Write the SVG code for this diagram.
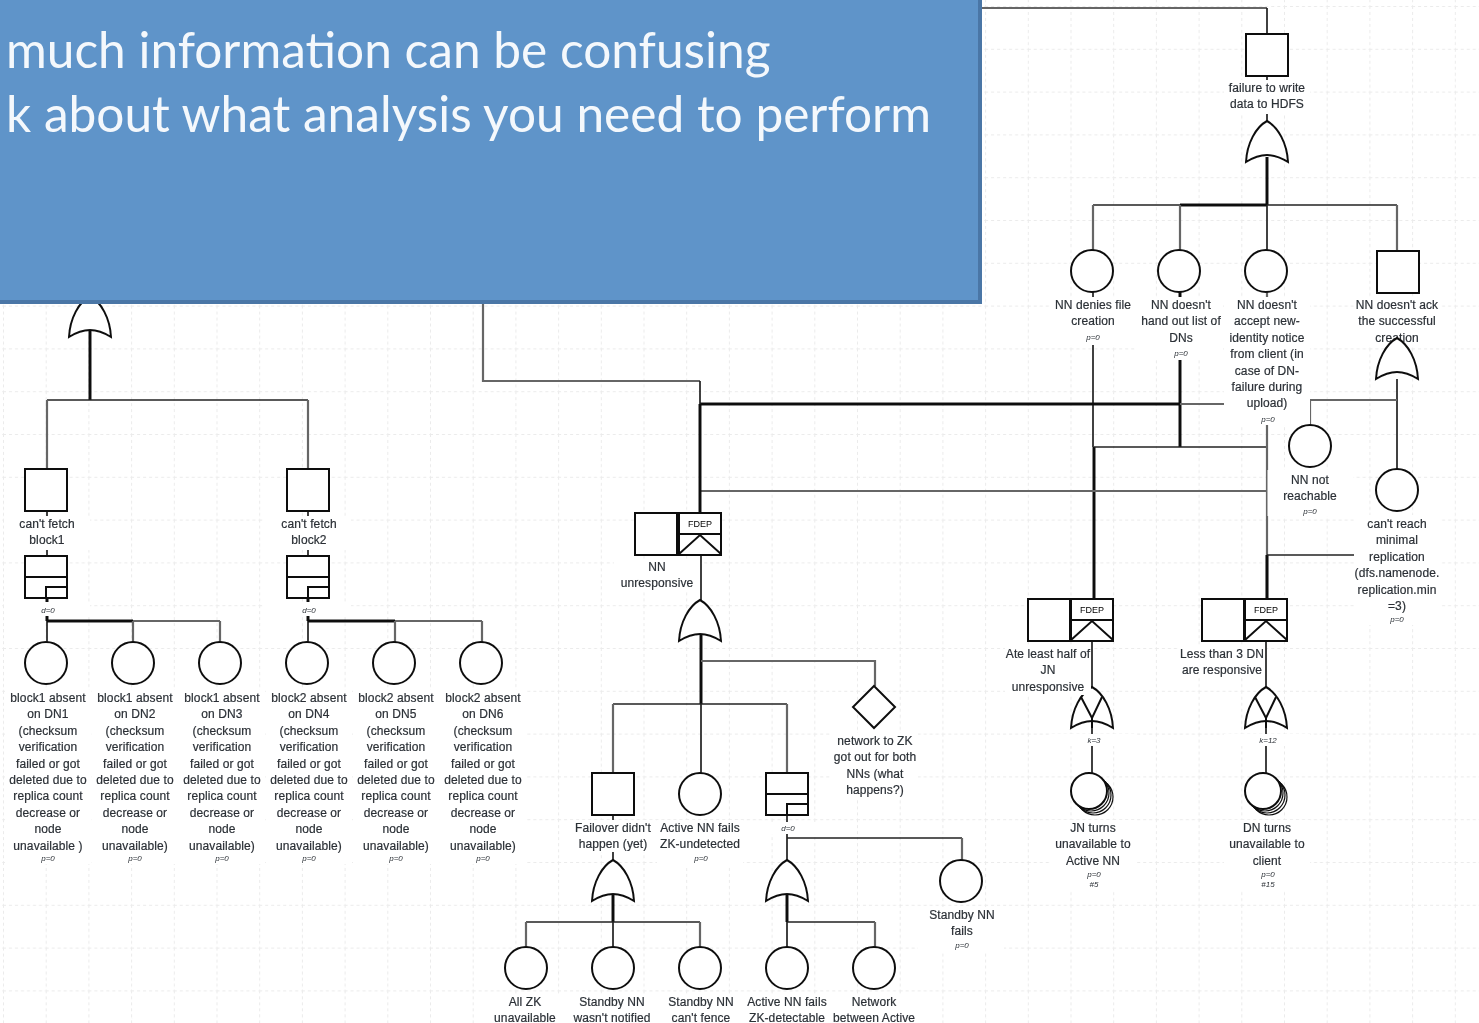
<svg xmlns="http://www.w3.org/2000/svg" xmlns:xlink="http://www.w3.org/1999/xlink" width="1479" height="1023" viewBox="0 0 1479 1023">
<style>
text{font-family:"Liberation Sans",Arial,sans-serif;fill:#2b3036;text-anchor:middle}
.l{font-size:12px;letter-spacing:.1px;stroke:#2b3036;stroke-width:.2px}
.p{font-size:8px;font-style:italic}
.f{font-size:9px;fill:#000}
.m{fill:#fff}
.s{fill:#fff;stroke:#111;stroke-width:2}
.r{fill:#fff;stroke:#111;stroke-width:1.2}
.n{fill:none;stroke:#111;stroke-width:2}
.c{fill:none;stroke:#222;stroke-width:1.7}
.t{fill:none;stroke:#111;stroke-width:3}
.g{fill:none;stroke:#666;stroke-width:2.2}
.title{font-family:Lato,"Open Sans",sans-serif;font-size:49.6px;fill:#f4f8fc;text-anchor:start}
</style>
<defs>
<filter id="soft" x="0" y="0" width="100%" height="100%"><feGaussianBlur stdDeviation="0.45"/></filter>
<pattern id="grid" width="42.7" height="42.8" patternUnits="userSpaceOnUse" patternTransform="translate(3 6)">
<path d="M.5 0V42.8M0 .5H42.7" fill="none" stroke="#ebebeb" stroke-width="1" stroke-dasharray="3 3"/>
</pattern>
<path id="or" class="s" d="M21 0C32 6 41 22 42 41C34 36 27 34 21 34C15 34 8 36 0 41C1 22 10 6 21 0Z"/>
<g id="xor"><use xlink:href="#or"/><path class="n" d="M10 10L21 31L31 10"/><path class="n" d="M21 31V41"/></g>
<g id="xfer"><rect class="s" width="42" height="42"/><path class="s" d="M0 21H42M21 42V31H42" style="fill:none"/></g>
<g id="fdep"><rect class="s" width="42" height="42"/><path class="s" d="M0 21H42" style="fill:none"/><path class="s" d="M0 41L21 22L42 41" style="fill:none"/><text class="f" x="21" y="13.5">FDEP</text></g>
</defs>
<rect width="1479" height="1023" fill="#fff"/>
<g filter="url(#soft)">
<rect width="1479" height="1023" fill="url(#grid)"/>
<g id="connectors">
<path class="g" d="M982 8H1267"/>
<path class="c" d="M1267 8V34M1267 75V122"/>
<path class="t" d="M1267 157V205"/>
<path class="c" d="M1093 205H1397"/>
<path class="t" d="M1180 205H1267"/>
<path class="g" d="M1093 205V251M1180 205V251M1397 205V251"/>
<path class="c" d="M1267 205V251"/>
<path class="c" d="M1093 292V447"/>
<path class="t" d="M1180 292V447M1094 447V600"/>
<path class="c" d="M1094 447H1267"/>
<path class="g" d="M1267 292V600"/>
<path class="t" d="M1267 555V600"/>
<path class="t" d="M700 404H1180"/>
<path class="g" d="M1180 404H1267"/>
<path class="g" d="M700 491H1267"/>
<path class="c" d="M1267 555H1360"/>
<path class="g" d="M483 303V381H700"/>
<path class="t" d="M700 404V513"/>
<path class="c" d="M700 381V404M701 554V600"/>
<path class="t" d="M701 635V704"/>
<path class="g" d="M701 661H875V686"/>
<path class="c" d="M613 704H787"/>
<path class="g" d="M613 704V773M787 704V773"/>
<path class="c" d="M701 704V773"/>
<path class="c" d="M613 815V860M787 815V860M787 838H962"/>
<path class="g" d="M962 838V860"/>
<path class="t" d="M613 895V922"/>
<path class="c" d="M613 922V947"/>
<path class="c" d="M526 922H700"/>
<path class="g" d="M526 922V947M700 922V947"/>
<path class="t" d="M787 895V922"/>
<path class="c" d="M787 922V947M787 922H875"/>
<path class="g" d="M875 922V947"/>
<path class="t" d="M90 331V400"/>
<path class="c" d="M47 400H308"/>
<path class="g" d="M47 400V469M308 400V469"/>
<path class="c" d="M47 511V556M308 511V556"/>
<path class="t" d="M47 598V621M308 598V621"/>
<path class="c" d="M47 621V642M308 621V642"/>
<path class="t" d="M47 621H133M308 621H395"/>
<path class="g" d="M133 621H220M133 621V642M220 621V642M395 621H482M395 621V642M482 621V642"/>
<path class="c" d="M1397 379V470"/>
<path class="g" d="M1310 400H1397M1310 400V425"/>
<path class="c" d="M1092 641V688M1092 728V773M1266 641V688M1266 728V773"/>
</g>

<g id="top-event"><rect class="m" x="1224" y="80" width="86" height="34"/><rect class="s" x="1246" y="34" width="42" height="42"/>
<text class="l" y="92"><tspan x="1267">failure to write</tspan><tspan x="1267" dy="16.4">data to HDFS</tspan></text></g>
<g id="top-gate"><use xlink:href="#or" x="1246" y="121"/></g>

<g id="nn-denies"><rect class="m" x="1050" y="297" width="86" height="48"/><circle class="s" cx="1092" cy="271" r="21"/>
<text class="l" y="309"><tspan x="1093">NN denies file</tspan><tspan x="1093" dy="16.4">creation</tspan></text><text class="p" x="1093" y="340">p=0</text></g>
<g id="nn-list"><rect class="m" x="1137" y="297" width="86" height="63"/><circle class="s" cx="1179" cy="271" r="21"/>
<text class="l" y="309"><tspan x="1181">NN doesn't</tspan><tspan x="1181" dy="16.4">hand out list of</tspan><tspan x="1181" dy="16.4">DNs</tspan></text><text class="p" x="1181" y="356">p=0</text></g>
<g id="nn-identity"><rect class="m" x="1224" y="297" width="86" height="128"/><circle class="s" cx="1266" cy="271" r="21"/>
<text class="l" y="309"><tspan x="1267">NN doesn't</tspan><tspan x="1267" dy="16.4">accept new-</tspan><tspan x="1267" dy="16.4">identity notice</tspan><tspan x="1267" dy="16.4">from client (in</tspan><tspan x="1267" dy="16.4">case of DN-</tspan><tspan x="1267" dy="16.4">failure during</tspan><tspan x="1267" dy="16.4">upload)</tspan></text><text class="p" x="1268" y="422">p=0</text></g>
<g id="nn-ack"><rect class="m" x="1354" y="297" width="86" height="48"/><rect class="s" x="1377" y="251" width="42" height="42"/>
<text class="l" y="309"><tspan x="1397">NN doesn't ack</tspan><tspan x="1397" dy="16.4">the successful</tspan><tspan x="1397" dy="16.4">creation</tspan></text></g>
<g id="ack-gate"><use xlink:href="#or" x="1376" y="338"/></g>
<g id="nn-not-reachable"><rect class="m" x="1267.5" y="470" width="86" height="46"/><circle class="s" cx="1310" cy="446" r="21"/>
<text class="l" y="484"><tspan x="1310">NN not</tspan><tspan x="1310" dy="16.4">reachable</tspan></text><text class="p" x="1310" y="514">p=0</text></g>
<g id="min-replication"><rect class="m" x="1354" y="515" width="86" height="110"/><circle class="s" cx="1397" cy="490" r="21"/>
<text class="l" y="528"><tspan x="1397">can't reach</tspan><tspan x="1397" dy="16.4">minimal</tspan><tspan x="1397" dy="16.4">replication</tspan><tspan x="1397" dy="16.4">(dfs.namenode.</tspan><tspan x="1397" dy="16.4">replication.min</tspan><tspan x="1397" dy="16.4">=3)</tspan></text><text class="p" x="1397" y="622">p=0</text></g>

<g id="fetch-gate"><use xlink:href="#or" x="69" y="296"/></g>
<g id="fetch1"><rect class="m" x="4" y="516" width="86" height="34"/><rect class="s" x="25" y="469" width="42" height="42"/>
<text class="l" y="528"><tspan x="47">can't fetch</tspan><tspan x="47" dy="16.4">block1</tspan></text></g>
<g id="fetch2"><rect class="m" x="265" y="516" width="86" height="34"/><rect class="s" x="287" y="469" width="42" height="42"/>
<text class="l" y="528"><tspan x="309">can't fetch</tspan><tspan x="309" dy="16.4">block2</tspan></text></g>
<g id="vote1"><rect class="m" x="4" y="602" width="86" height="14"/><use xlink:href="#xfer" x="25" y="556"/><text class="p" x="48" y="613">d=0</text></g>
<g id="vote2"><rect class="m" x="265" y="602" width="86" height="14"/><use xlink:href="#xfer" x="287" y="556"/><text class="p" x="309" y="613">d=0</text></g>

<g id="dn1"><rect class="m" x="5" y="690" width="86" height="174"/><circle class="s" cx="46" cy="663" r="21"/>
<text class="l" y="702"><tspan x="48">block1 absent</tspan><tspan x="48" dy="16.4">on DN1</tspan><tspan x="48" dy="16.4">(checksum</tspan><tspan x="48" dy="16.4">verification</tspan><tspan x="48" dy="16.4">failed or got</tspan><tspan x="48" dy="16.4">deleted due to</tspan><tspan x="48" dy="16.4">replica count</tspan><tspan x="48" dy="16.4">decrease or</tspan><tspan x="48" dy="16.4">node</tspan><tspan x="48" dy="16.4">unavailable )</tspan></text><text class="p" x="48" y="861">p=0</text></g>
<g id="dn2"><rect class="m" x="92" y="690" width="86" height="174"/><circle class="s" cx="133" cy="663" r="21"/>
<text class="l" y="702"><tspan x="135">block1 absent</tspan><tspan x="135" dy="16.4">on DN2</tspan><tspan x="135" dy="16.4">(checksum</tspan><tspan x="135" dy="16.4">verification</tspan><tspan x="135" dy="16.4">failed or got</tspan><tspan x="135" dy="16.4">deleted due to</tspan><tspan x="135" dy="16.4">replica count</tspan><tspan x="135" dy="16.4">decrease or</tspan><tspan x="135" dy="16.4">node</tspan><tspan x="135" dy="16.4">unavailable)</tspan></text><text class="p" x="135" y="861">p=0</text></g>
<g id="dn3"><rect class="m" x="179" y="690" width="86" height="174"/><circle class="s" cx="220" cy="663" r="21"/>
<text class="l" y="702"><tspan x="222">block1 absent</tspan><tspan x="222" dy="16.4">on DN3</tspan><tspan x="222" dy="16.4">(checksum</tspan><tspan x="222" dy="16.4">verification</tspan><tspan x="222" dy="16.4">failed or got</tspan><tspan x="222" dy="16.4">deleted due to</tspan><tspan x="222" dy="16.4">replica count</tspan><tspan x="222" dy="16.4">decrease or</tspan><tspan x="222" dy="16.4">node</tspan><tspan x="222" dy="16.4">unavailable)</tspan></text><text class="p" x="222" y="861">p=0</text></g>
<g id="dn4"><rect class="m" x="266" y="690" width="86" height="174"/><circle class="s" cx="307" cy="663" r="21"/>
<text class="l" y="702"><tspan x="309">block2 absent</tspan><tspan x="309" dy="16.4">on DN4</tspan><tspan x="309" dy="16.4">(checksum</tspan><tspan x="309" dy="16.4">verification</tspan><tspan x="309" dy="16.4">failed or got</tspan><tspan x="309" dy="16.4">deleted due to</tspan><tspan x="309" dy="16.4">replica count</tspan><tspan x="309" dy="16.4">decrease or</tspan><tspan x="309" dy="16.4">node</tspan><tspan x="309" dy="16.4">unavailable)</tspan></text><text class="p" x="309" y="861">p=0</text></g>
<g id="dn5"><rect class="m" x="353" y="690" width="86" height="174"/><circle class="s" cx="394" cy="663" r="21"/>
<text class="l" y="702"><tspan x="396">block2 absent</tspan><tspan x="396" dy="16.4">on DN5</tspan><tspan x="396" dy="16.4">(checksum</tspan><tspan x="396" dy="16.4">verification</tspan><tspan x="396" dy="16.4">failed or got</tspan><tspan x="396" dy="16.4">deleted due to</tspan><tspan x="396" dy="16.4">replica count</tspan><tspan x="396" dy="16.4">decrease or</tspan><tspan x="396" dy="16.4">node</tspan><tspan x="396" dy="16.4">unavailable)</tspan></text><text class="p" x="396" y="861">p=0</text></g>
<g id="dn6"><rect class="m" x="440" y="690" width="86" height="174"/><circle class="s" cx="481" cy="663" r="21"/>
<text class="l" y="702"><tspan x="483">block2 absent</tspan><tspan x="483" dy="16.4">on DN6</tspan><tspan x="483" dy="16.4">(checksum</tspan><tspan x="483" dy="16.4">verification</tspan><tspan x="483" dy="16.4">failed or got</tspan><tspan x="483" dy="16.4">deleted due to</tspan><tspan x="483" dy="16.4">replica count</tspan><tspan x="483" dy="16.4">decrease or</tspan><tspan x="483" dy="16.4">node</tspan><tspan x="483" dy="16.4">unavailable)</tspan></text><text class="p" x="483" y="861">p=0</text></g>

<g id="nn-unresponsive"><rect class="m" x="614" y="559" width="86" height="32"/><rect class="s" x="635" y="513" width="42" height="42"/><use xlink:href="#fdep" x="679" y="513"/>
<text class="l" y="571"><tspan x="657">NN</tspan><tspan x="657" dy="16.4">unresponsive</tspan></text></g>
<g id="nn-gate"><use xlink:href="#or" x="679" y="600"/></g>
<g id="zk-network"><rect class="m" x="832" y="733" width="86" height="66"/><path class="s" d="M874 686L895 707L874 728L853 707Z"/>
<text class="l" y="745"><tspan x="875">network to ZK</tspan><tspan x="875" dy="16.4">got out for both</tspan><tspan x="875" dy="16.4">NNs (what</tspan><tspan x="875" dy="16.4">happens?)</tspan></text></g>
<g id="failover"><rect class="m" x="570" y="820" width="86" height="32"/><rect class="s" x="592" y="773" width="42" height="42"/>
<text class="l" y="832"><tspan x="613">Failover didn't</tspan><tspan x="613" dy="16.4">happen (yet)</tspan></text></g>
<g id="active-undetected"><rect class="m" x="657" y="820" width="86" height="46"/><circle class="s" cx="700" cy="794" r="21"/>
<text class="l" y="832"><tspan x="700">Active NN fails</tspan><tspan x="700" dy="16.4">ZK-undetected</tspan></text><text class="p" x="701" y="861">p=0</text></g>
<g id="vote3"><rect class="m" x="744" y="822" width="86" height="12"/><use xlink:href="#xfer" x="766" y="773"/><text class="p" x="788" y="831">d=0</text></g>
<g id="failover-gate"><use xlink:href="#or" x="592" y="860"/></g>
<g id="vote-gate"><use xlink:href="#or" x="766" y="860"/></g>
<g id="standby-fails"><rect class="m" x="918" y="907" width="86" height="46"/><circle class="s" cx="961" cy="881" r="21"/>
<text class="l" y="919"><tspan x="962">Standby NN</tspan><tspan x="962" dy="16.4">fails</tspan></text><text class="p" x="962" y="948">p=0</text></g>
<g id="zk-unavailable"><rect class="m" x="483" y="994" width="86" height="29"/><circle class="s" cx="526" cy="968" r="21"/>
<text class="l" y="1006"><tspan x="525">All ZK</tspan><tspan x="525" dy="16.4">unavailable</tspan></text></g>
<g id="standby-notified"><rect class="m" x="570" y="994" width="86" height="29"/><circle class="s" cx="613" cy="968" r="21"/>
<text class="l" y="1006"><tspan x="612">Standby NN</tspan><tspan x="612" dy="16.4">wasn't notified</tspan></text></g>
<g id="standby-fence"><rect class="m" x="657" y="994" width="86" height="29"/><circle class="s" cx="700" cy="968" r="21"/>
<text class="l" y="1006"><tspan x="701">Standby NN</tspan><tspan x="701" dy="16.4">can't fence</tspan></text></g>
<g id="active-detectable"><rect class="m" x="744" y="994" width="86" height="29"/><circle class="s" cx="787" cy="968" r="21"/>
<text class="l" y="1006"><tspan x="787">Active NN fails</tspan><tspan x="787" dy="16.4">ZK-detectable</tspan></text></g>
<g id="network-active"><rect class="m" x="831" y="994" width="86" height="29"/><circle class="s" cx="874" cy="968" r="21"/>
<text class="l" y="1006"><tspan x="874">Network</tspan><tspan x="874" dy="16.4">between Active</tspan></text></g>

<g id="jn-gate"><use xlink:href="#xor" x="1071" y="687"/></g>
<g id="jn-half"><rect class="m" x="1005" y="646" width="86" height="49"/><rect class="s" x="1028" y="599" width="42" height="42"/><use xlink:href="#fdep" x="1071" y="599"/>
<text class="l" y="658"><tspan x="1048">Ate least half of</tspan><tspan x="1048" dy="16.4">JN</tspan><tspan x="1048" dy="16.4">unresponsive</tspan></text></g>
<g id="jn-k"><rect class="m" x="1050" y="734" width="86" height="12"/><text class="p" x="1094" y="743">k=3</text></g>
<g id="jn-turns"><rect class="m" x="1050" y="820" width="86" height="70"/>
<circle class="r" cx="1095" cy="797" r="18"/><circle class="r" cx="1093" cy="795" r="18"/><circle class="r" cx="1091" cy="793" r="18"/><circle class="s" cx="1089" cy="791" r="18"/>
<text class="l" y="832"><tspan x="1093">JN turns</tspan><tspan x="1093" dy="16.4">unavailable to</tspan><tspan x="1093" dy="16.4">Active NN</tspan></text><text class="p" x="1094" y="877">p=0</text><text class="p" x="1094" y="887">#5</text></g>
<g id="dn-gate"><use xlink:href="#xor" x="1245" y="687"/></g>
<g id="dn-less"><rect class="m" x="1179" y="646" width="86" height="32"/><rect class="s" x="1202" y="599" width="42" height="42"/><use xlink:href="#fdep" x="1245" y="599"/>
<text class="l" y="658"><tspan x="1222">Less than 3 DN</tspan><tspan x="1222" dy="16.4">are responsive</tspan></text></g>
<g id="dn-k"><rect class="m" x="1224" y="734" width="86" height="12"/><text class="p" x="1268" y="743">k=12</text></g>
<g id="dn-turns"><rect class="m" x="1224" y="820" width="86" height="70"/>
<circle class="r" cx="1269" cy="797" r="18"/><circle class="r" cx="1267" cy="795" r="18"/><circle class="r" cx="1265" cy="793" r="18"/><circle class="s" cx="1263" cy="791" r="18"/>
<text class="l" y="832"><tspan x="1267">DN turns</tspan><tspan x="1267" dy="16.4">unavailable to</tspan><tspan x="1267" dy="16.4">client</tspan></text><text class="p" x="1268" y="877">p=0</text><text class="p" x="1268" y="887">#15</text></g>
</g>
<g id="panel">
<rect x="-4" y="-4" width="984" height="306" fill="#5f94c9" stroke="#4a76a6" stroke-width="4"/>
<text class="title" x="6" y="68">much information can be confusing</text>
<text class="title" x="6" y="132">k about what analysis you need to perform</text>
</g>
</svg>
